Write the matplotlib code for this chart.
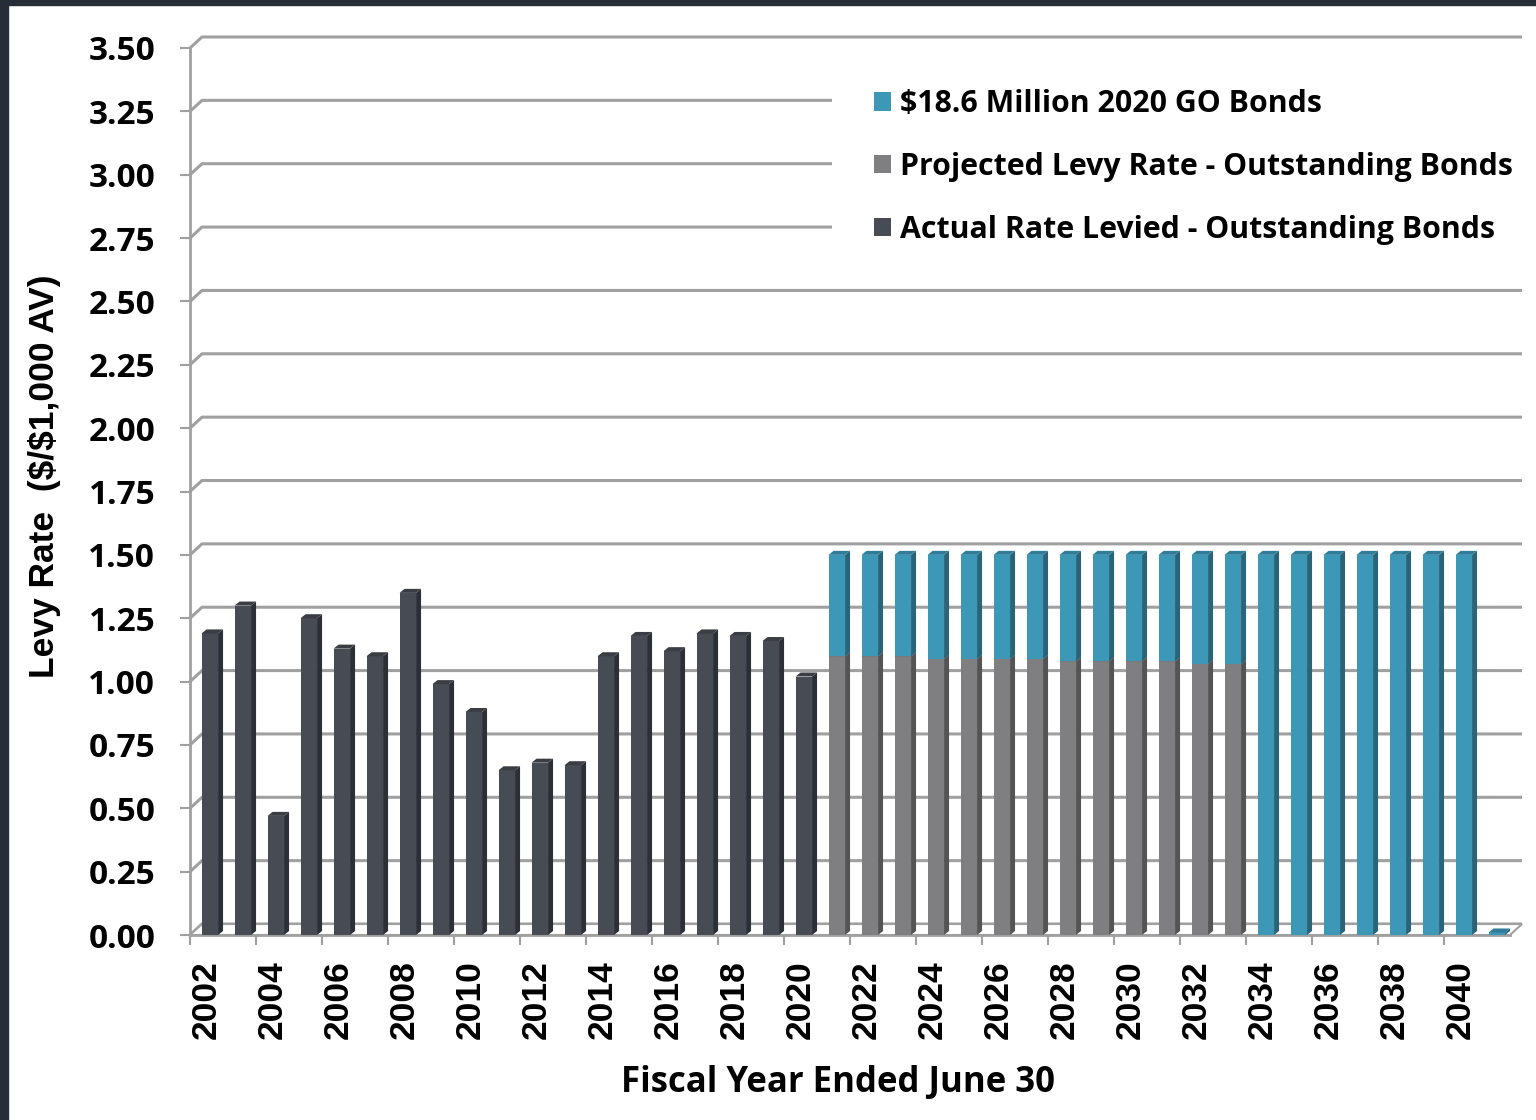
import matplotlib
matplotlib.use("Agg")
import matplotlib.pyplot as plt
from matplotlib.patches import Polygon, Rectangle, Patch
import numpy as np

# levy rates per $1,000 assessed value, fiscal years 2002-2041
years = list(range(2002, 2042))
actual_rate = [1.19, 1.30, 0.47, 1.25, 1.13, 1.10, 1.35, 0.99, 0.88, 0.65,
               0.68, 0.67, 1.10, 1.18, 1.12, 1.19, 1.18, 1.16, 1.02]          # 2002-2020
projected_rate = [1.10, 1.10, 1.10, 1.09, 1.09, 1.09, 1.09, 1.08, 1.08, 1.08,
                  1.08, 1.07, 1.07]                                            # 2021-2033
combined_rate = [1.50] * 20 + [0.01]                                           # 2021-2041 incl. 2020 GO bonds

labels = [r"\$18.6 Million 2020 GO Bonds",
          "Projected Levy Rate - Outstanding Bonds",
          "Actual Rate Levied - Outstanding Bonds"]

n = len(years)
actual = np.zeros(n); actual[:len(actual_rate)] = actual_rate
proj = np.zeros(n); proj[19:19 + len(projected_rate)] = projected_rate
total = np.zeros(n); total[19:] = combined_rate
go2020 = np.where(total > 0, total - proj, 0)

DARK = ("#474b54", "#2c2f35", "#3a3d44")
GRAY = ("#7f7f81", "#545455", "#6c6c6e")
TEAL = ("#3d97b6", "#2a6478", "#2f7d98")
GRID = "#a0a0a0"
SANS = ["Open Sans", "DejaVu Sans"]
ARIAL = ["Liberation Sans", "DejaVu Sans"]

W, H = 1536, 1120
fig = plt.figure(figsize=(W / 100, H / 100), dpi=100)
fig.patch.set_facecolor("white")
# dark frame on left and top edges
fig.patches.append(Rectangle((0, 0), 8 / W, 1, transform=fig.transFigure, color="#262d36", zorder=10))
fig.patches.append(Rectangle((0, 1 - 5 / H), 1, 5 / H, transform=fig.transFigure, color="#262d36", zorder=10))

x0, x1, y0, y1 = 190, 1510, 935, 48
ax = fig.add_axes([x0 / W, 1 - y0 / H, (x1 - x0) / W, (y0 - y1) / H])
ax.set_xlim(-0.5, n - 0.5)
ax.set_ylim(0, 3.5)
ppx = (x1 - x0) / n          # pixels per category
ppy = (y0 - y1) / 3.5        # pixels per unit

# back wall depth offset (data units)
bdx, bdy = 12 / ppx, 11 / ppy
ticks = np.arange(0, 3.51, 0.25)
for v in ticks:
    ax.plot([-0.5, -0.5 + bdx, n - 0.5 + bdx], [v, v + bdy, v + bdy], color=GRID, lw=2.2,
            zorder=1, clip_on=False, solid_capstyle="butt")
# floor
ax.add_patch(Polygon([(-0.5, 0), (n - 0.5, 0), (n - 0.5 + bdx, bdy), (-0.5 + bdx, bdy)],
                     closed=True, fc="white", ec=GRID, lw=1.5, zorder=1.5, clip_on=False))

# 3D columns: front face from ax.bar, side and top faces from each bar's geometry
bw = 0.5
xpos = np.arange(n) + 0.1
sdx, sdy = 5 / ppx, 4 / ppy


def column(xc, bottom, height, cols, z):
    if height <= 0:
        return
    ax.bar(xc, height, width=bw, bottom=bottom, color=cols[0], zorder=z, lw=0)
    r = xc + bw / 2
    l = xc - bw / 2
    top = bottom + height
    ax.add_patch(Polygon([(r, bottom), (r + sdx, bottom + sdy), (r + sdx, top + sdy), (r, top)],
                         closed=True, fc=cols[1], lw=0, zorder=z))
    ax.add_patch(Polygon([(l, top), (r, top), (r + sdx, top + sdy), (l + sdx, top + sdy)],
                         closed=True, fc=cols[2], lw=0, zorder=z + 0.1))


for i in range(n):
    column(xpos[i], 0, actual[i], DARK, 3)
    column(xpos[i], 0, proj[i], GRAY, 3)
    column(xpos[i], proj[i], go2020[i], TEAL, 3.2)

# axes styling
for s in ["top", "right"]:
    ax.spines[s].set_visible(False)
for s in ["left", "bottom"]:
    ax.spines[s].set_color(GRID)
    ax.spines[s].set_linewidth(2.0)
    ax.spines[s].set_zorder(2)
ax.set_yticks(ticks)
ax.set_yticklabels([f"{v:.2f}" for v in ticks], fontsize=24, fontweight="bold", family=SANS)
ax.tick_params(axis="y", length=7, width=1.5, color=GRID, pad=18)

even = np.arange(0, n, 2)
ax.set_xticks(even - 0.5)
ax.set_xticklabels([])
ax.tick_params(axis="x", which="major", length=7, width=1.5, color=GRID)
ax.set_xticks(even, minor=True)
ax.set_xticklabels([str(years[i]) for i in even], minor=True, rotation=90,
                   fontsize=25.5, fontweight="bold", family=ARIAL)
ax.tick_params(axis="x", which="minor", length=0, pad=18)

fig.text(838 / W, 1 - 1083 / H, "Fiscal Year Ended June 30", ha="center", va="center",
         fontsize=25, fontweight="bold", family=SANS)
fig.text(45 / W, 1 - 476 / H, r"Levy Rate  (\$/\$1,000 AV)", ha="center", va="center",
         rotation=90, fontsize=25.5, fontweight="bold", family=ARIAL)

# legend on a white panel over the upper gridlines
ax.add_patch(Rectangle(((832 - x0) / (x1 - x0), (y0 - 262) / (y0 - y1)),
                       (W - 832) / (x1 - x0), (262 - 62) / (y0 - y1),
                       transform=ax.transAxes, fc="white", ec="none", zorder=4, clip_on=False))
handles = [Patch(fc=TEAL[0]), Patch(fc=GRAY[0]), Patch(fc=DARK[0])]
leg = fig.legend(handles, labels, loc="upper left", bbox_to_anchor=(862 / W, 1 - 77 / H),
                 frameon=False, handlelength=0.55, handleheight=0.55, handletextpad=0.3,
                 labelspacing=1.08, borderaxespad=0,
                 prop={"family": SANS, "weight": "bold", "size": 21.8})
leg.set_zorder(6)

fig.savefig("out.png", dpi=100, facecolor="white")
